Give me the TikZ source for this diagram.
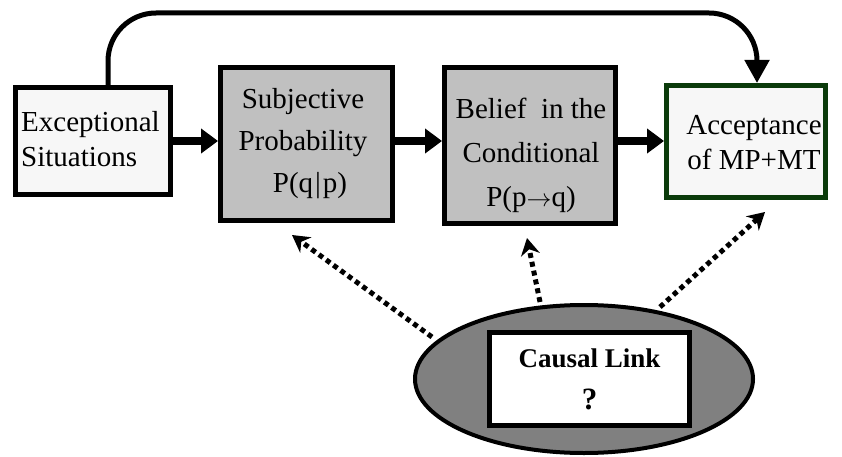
\documentclass[tikz,border=0pt]{standalone}
\usepackage{fontspec}
\setmainfont{Liberation Serif}
\usetikzlibrary{arrows.meta,shapes.geometric,calc}
\definecolor{lightfill}{HTML}{F7F7F7}
\definecolor{midgrey}{HTML}{C0C0C0}
\definecolor{darkgrey}{HTML}{808080}
\definecolor{darkgreen}{HTML}{0B3B0B}
\begin{document}
\begin{tikzpicture}[x=1pt,y=-1pt,
  box/.style={draw=black, line width=5pt, rectangle, inner sep=0pt},
  txt/.style={inner sep=0pt, align=center, font=\fontsize{29}{35}\selectfont},
  harrow/.style={line width=8pt, -{Triangle[length=17pt,width=24pt]}},
  carrow/.style={line width=5pt, rounded corners=48pt, -{Triangle[length=23pt,width=24pt]}},
  dotarrow/.style={line width=5pt, dash pattern=on 5pt off 4pt, -{Stealth[length=17pt,width=19pt]}}
]
\useasboundingbox (0,0) rectangle (842,457);

% boxes
\node[box, fill=lightfill, minimum width=155pt, minimum height=107pt] (b1) at (93,141) {};
\node[txt, align=left, anchor=west] (t1) at (21,139) {Exceptional\\Situations};

\node[box, fill=midgrey, minimum width=172pt, minimum height=153pt] (b2) at (306.5,144) {};
\node[txt, font=\fontsize{29}{42}\selectfont] (t2) at (303,144) {Subjective\\Probability\\\hspace*{14pt}P(q\kern2pt|\kern2pt p)};

\node[box, fill=midgrey, minimum width=171pt, minimum height=156pt] (b3) at (530,145.5) {};
\node[txt, font=\fontsize{29}{44}\selectfont] (t3) at (531,155) {Belief\ \ in the\\Conditional\\P(p$\rightarrow$q)};

\node[box, draw=darkgreen, fill=lightfill, minimum width=159pt, minimum height=112pt] (b4) at (746,141.5) {};
\node[txt] (t4) at (754,143) {Acceptance\\of MP+MT};

% ellipse with causal link
\node[ellipse, draw=black, line width=4pt, fill=darkgrey, minimum width=338pt, minimum height=148pt, inner sep=0pt] (el) at (584,379) {};
\node[box, fill=white, minimum width=200pt, minimum height=93pt, align=center,
      font=\fontsize{27}{42}\selectfont\bfseries] (cl) at (589.5,379) {Causal Link\\{\fontsize{31}{42}\selectfont ?}};

% horizontal arrows
\draw[harrow] (b1.east) -- (b1.east -| b2.west);
\draw[harrow] (b2.east |- b1.east) -- (b1.east -| b3.west);
\draw[harrow] (b3.east |- b1.east) -- (b1.east -| b4.west);

% curved arrow over the top
\coordinate (cs) at (108,85);
\coordinate (ct) at (757,13);
\coordinate (ce) at (757,83);
\draw[carrow] (cs) |- (ct) -- (ce);

% dotted arrows from the causal link
\coordinate (s1) at (432,337);
\coordinate (u1) at (292,235);
\coordinate (s2) at (540,302);
\coordinate (u2) at (527,238);
\coordinate (s3) at (660,307);
\coordinate (u3) at (765,212);
\draw[dotarrow] (s1) -- (u1);
\draw[dotarrow] (s2) -- (u2);
\draw[dotarrow] (s3) -- (u3);
\end{tikzpicture}
\end{document}
